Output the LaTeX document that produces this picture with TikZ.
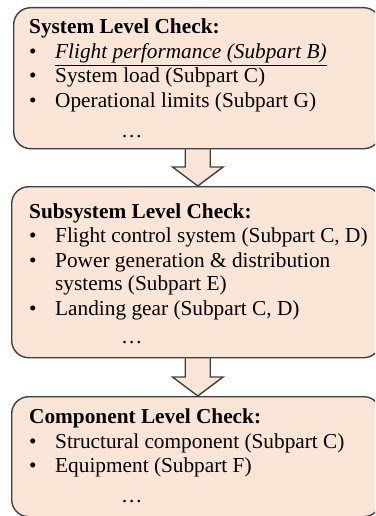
\documentclass[tikz,border=0pt]{standalone}
\usepackage{fontspec}
\setmainfont{Liberation Serif}
\usetikzlibrary{backgrounds}
\definecolor{boxfill}{HTML}{FBE5D6}
\definecolor{boxline}{HTML}{404040}
\tikzset{
  box/.style={draw=boxline, fill=boxfill, line width=1.4pt, rounded corners=17pt, inner sep=0pt, anchor=north west},
  txt/.style={anchor=base west, inner sep=0pt, font=\fontsize{21.3pt}{25pt}\selectfont},
  ttl/.style={txt, font=\fontsize{21.3pt}{25pt}\selectfont\bfseries},
  bul/.style={txt},
  bigarrow/.style={draw=boxline, fill=boxfill, line width=1.4pt, line join=miter}
}
\begin{document}
\begin{tikzpicture}[x=1pt,y=-1pt]
\useasboundingbox (0,0) rectangle (375,516);
\clip (0,0) rectangle (375,516);
% boxes
\node[box, minimum width=367pt, minimum height=141pt] (b1) at (13,7) {};
\node[box, minimum width=369pt, minimum height=171pt] (b2) at (11,186) {};
\node[box, minimum width=369pt, minimum height=120pt] (b3) at (11,396) {};
% arrows
\begin{scope}[on background layer]
\coordinate (a1s) at (b1.south -| 197.75,0);
\coordinate (a1e) at (b2.north -| 197.75,0);
\fill[boxfill] ([xshift=-12.5pt,yshift=2pt]a1s) -- ([xshift=-12.5pt]a1s |- 0,167) -- ([xshift=-25.25pt]a1s |- 0,167) -- (a1e) -- ([xshift=25.25pt]a1s |- 0,167) -- ([xshift=12.5pt]a1s |- 0,167) -- ([xshift=12.5pt,yshift=2pt]a1s) -- cycle;
\draw[bigarrow, fill=none] ([xshift=-12.5pt]a1s) -- ([xshift=-12.5pt]a1s |- 0,167) -- ([xshift=-25.25pt]a1s |- 0,167) -- (a1e) -- ([xshift=25.25pt]a1s |- 0,167) -- ([xshift=12.5pt]a1s |- 0,167) -- ([xshift=12.5pt]a1s);
\coordinate (a2s) at (b2.south -| 197.75,0);
\coordinate (a2e) at (b3.north -| 197.75,0);
\fill[boxfill] ([xshift=-12.5pt,yshift=2pt]a2s) -- ([xshift=-12.5pt]a2s |- 0,377) -- ([xshift=-25.25pt]a2s |- 0,377) -- (a2e) -- ([xshift=25.25pt]a2s |- 0,377) -- ([xshift=12.5pt]a2s |- 0,377) -- ([xshift=12.5pt,yshift=2pt]a2s) -- cycle;
\draw[bigarrow, fill=none] ([xshift=-12.5pt]a2s) -- ([xshift=-12.5pt]a2s |- 0,377) -- ([xshift=-25.25pt]a2s |- 0,377) -- (a2e) -- ([xshift=25.25pt]a2s |- 0,377) -- ([xshift=12.5pt]a2s |- 0,377) -- ([xshift=12.5pt]a2s);
\end{scope}
% box 1 text
\node[ttl] (t1) at (29,34) {System Level Check:};
\node[bul] (t1b1) at (29,59) {•};
\node[txt] (t1i1) at (55,59) {\underline{\itshape Flight performance (Subpart B)}};
\node[bul] (t1b2) at (29,83) {•};
\node[txt] (t1i2) at (55,83) {System load (Subpart C)};
\node[bul] (t1b3) at (29,107) {•};
\node[txt] (t1i3) at (55,107) {Operational limits (Subpart G)};
\node[txt] (t1d) at (121,137) {…};
% box 2 text
\node[ttl] (t2) at (29,218) {Subsystem Level Check:};
\node[bul] (t2b1) at (29,242) {•};
\node[txt] (t2i1) at (55,242) {Flight control system (Subpart C, D)};
\node[bul] (t2b2) at (29,267) {•};
\node[txt] (t2i2) at (55,267) {Power generation \& distribution};
\node[txt] (t2i2b) at (55,290) {systems (Subpart E)};
\node[bul] (t2b3) at (29,315) {•};
\node[txt] (t2i3) at (55,315) {Landing gear (Subpart C, D)};
\node[txt] (t2d) at (121,343) {…};
% box 3 text
\node[ttl] (t3) at (29,423) {Component Level Check:};
\node[bul] (t3b1) at (29,448) {•};
\node[txt] (t3i1) at (55,448) {Structural component (Subpart C)};
\node[bul] (t3b2) at (29,472) {•};
\node[txt] (t3i2) at (55,472) {Equipment (Subpart F)};
\node[txt] (t3d) at (121,502) {…};
\end{tikzpicture}
\end{document}
